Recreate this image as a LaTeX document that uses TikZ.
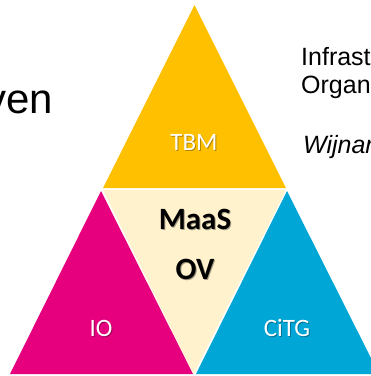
\documentclass[tikz,border=0pt]{standalone}
\usepackage{fontspec}
\setmainfont{Liberation Sans}
\newfontfamily\calib{Carlito}
\definecolor{topgold}{HTML}{FFC000}
\definecolor{magentaio}{HTML}{E6007E}
\definecolor{bluecitg}{HTML}{00A6D6}
\definecolor{creammid}{HTML}{FFF2CC}
\tikzset{
  tri/.style={draw=none},
  lbl/.style={font=\calib\fontsize{25}{30}\selectfont,text=white,inner sep=0pt},
  lblshadow/.style={font=\calib\fontsize{25}{30}\selectfont,text=black,opacity=0.3,inner sep=0pt},
  midlbl/.style={font=\calib\bfseries\fontsize{31}{37}\selectfont,text=black,inner sep=0pt},
  midshadow/.style={font=\calib\bfseries\fontsize{31}{37}\selectfont,text=black,opacity=0.35,inner sep=0pt},
  side/.style={font=\fontsize{25}{28}\selectfont,text=black,inner sep=0pt,anchor=base west},
}
\begin{document}
\begin{tikzpicture}[x=1pt,y=-1pt]
\useasboundingbox (0,0) rectangle (371,376);
\clip (0,0) rectangle (371,376);
\fill[white] (0,0) rectangle (371,376);
\fill[tri,topgold] (194.5,5) -- (286,188) -- (103,188) -- cycle;
\fill[tri,creammid] (103,190) -- (286,190) -- (193.5,374) -- cycle;
\fill[tri,magentaio] (101,191) -- (193,374) -- (10,374) -- cycle;
\fill[tri,bluecitg] (287,191) -- (379,374) -- (196,374) -- cycle;
\node[side,font=\fontsize{42}{48}\selectfont] (ven) at (-15,113) {ven};
\node[side] (infra) at (301,65) {Infrast};
\node[side] (org) at (301,93) {Organ};
\node[side,font=\itshape\fontsize{25}{28}\selectfont] (wij) at (303,153) {Wijnar};
\node[lblshadow] (tbms) at (195,143) {TBM};
\node[lbl] (tbm) at (194,142) {TBM};
\node[lblshadow] (ios) at (102,329) {IO};
\node[lbl] (io) at (101,328) {IO};
\node[lblshadow] (citgs) at (288,329) {CiTG};
\node[lbl] (citg) at (287,328) {CiTG};
\node[midshadow] (maass) at (196,220) {MaaS};
\node[midlbl] (maas) at (195,219) {MaaS};
\node[midshadow] (ovs) at (196,270) {OV};
\node[midlbl] (ov) at (195,269) {OV};
\end{tikzpicture}
\end{document}
